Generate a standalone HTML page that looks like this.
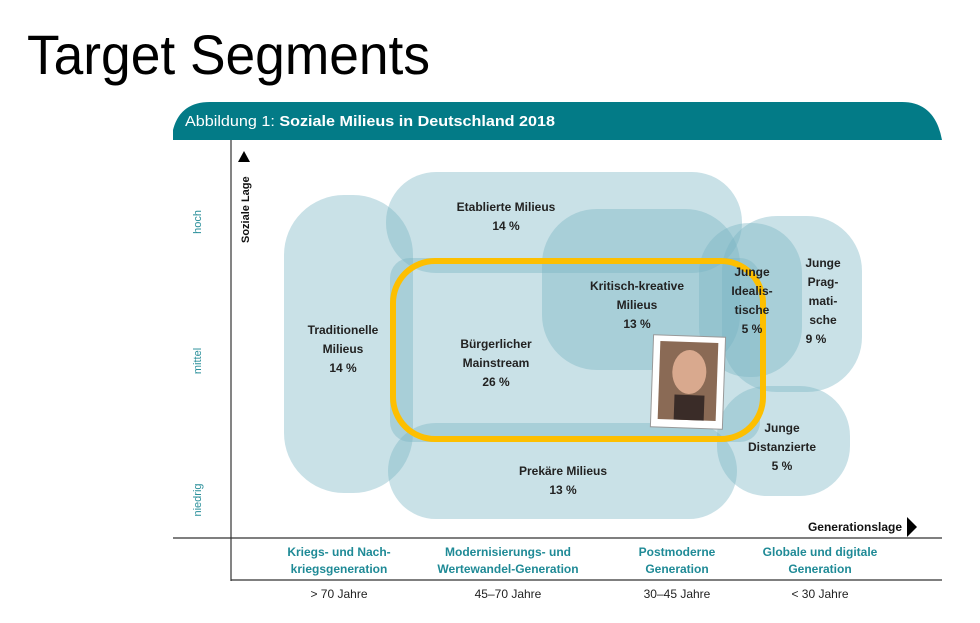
<!DOCTYPE html>
<html><head><meta charset="utf-8"><style>
html,body{margin:0;padding:0;background:#fff;}
svg{display:block;font-family:"Liberation Sans",sans-serif;}
</style></head><body>
<svg width="980" height="623" viewBox="0 0 980 623" xmlns="http://www.w3.org/2000/svg">
<text x="27" y="74" font-size="56" fill="#000" textLength="403" lengthAdjust="spacingAndGlyphs">Target Segments</text>
<path d="M173,140 L173,130 Q180,102 210,102 L902,102 Q935,102 942,140 Z" fill="#037b87"/>
<text x="185" y="126" font-size="15" fill="#fff" textLength="370" lengthAdjust="spacingAndGlyphs">Abbildung 1: <tspan font-weight="bold">Soziale Milieus in Deutschland 2018</tspan></text>
<g fill="rgb(120,180,195)" fill-opacity="0.4">
<rect x="284" y="195" width="129" height="298" rx="60"/>
<rect x="386" y="172" width="356" height="101" rx="50"/>
<rect x="542" y="209" width="198" height="161" rx="55"/>
<rect x="390" y="258" width="370" height="184" rx="20"/>
<rect x="388" y="423" width="349" height="96" rx="48"/>
<rect x="699" y="223" width="103" height="154" rx="50"/>
<rect x="722" y="216" width="140" height="176" rx="55"/>
<rect x="717" y="386" width="133" height="110" rx="50"/>
</g>
<rect x="393" y="261" width="370" height="178" rx="42" fill="none" stroke="#fdbf00" stroke-width="6"/>
<g transform="rotate(2 688 381)">
<rect x="652" y="336" width="72" height="92" fill="#fff" stroke="#999" stroke-width="1"/>
<rect x="659" y="342" width="58" height="78" fill="#8a6a55"/>
<ellipse cx="689" cy="372" rx="17" ry="22" fill="#d9a98e"/>
<rect x="675" y="395" width="30" height="25" fill="#3a2c28"/>
</g>
<g font-size="12" fill="#222" text-anchor="middle" font-weight="bold">
<text x="343" y="334">Traditionelle</text><text x="343" y="353">Milieus</text><text x="343" y="372">14 %</text>
<text x="506" y="211">Etablierte Milieus</text><text x="506" y="230">14 %</text>
<text x="637" y="290">Kritisch-kreative</text><text x="637" y="309">Milieus</text><text x="637" y="328">13 %</text>
<text x="496" y="348">Bürgerlicher</text><text x="496" y="367">Mainstream</text><text x="496" y="386">26 %</text>
<text x="752" y="276">Junge</text><text x="752" y="295">Idealis-</text><text x="752" y="314">tische</text><text x="752" y="333">5 %</text>
<text x="823" y="267">Junge</text><text x="823" y="286">Prag-</text><text x="823" y="305">mati-</text><text x="823" y="324">sche</text><text x="816" y="343">9 %</text>
<text x="782" y="432">Junge</text><text x="782" y="451">Distanzierte</text><text x="782" y="470">5 %</text>
<text x="563" y="475">Prekäre Milieus</text><text x="563" y="494">13 %</text>
</g>
<line x1="231" y1="140" x2="231" y2="581" stroke="#333" stroke-width="1.2"/>
<line x1="173" y1="538" x2="942" y2="538" stroke="#333" stroke-width="1.2"/>
<line x1="231" y1="580" x2="942" y2="580" stroke="#333" stroke-width="1.2"/>
<polygon points="238,162 250,162 244,151" fill="#000"/>
<text transform="translate(249,243) rotate(-90)" font-size="11" font-weight="bold" fill="#111">Soziale Lage</text>
<g font-size="11" fill="#2a8f9a" text-anchor="middle">
<text transform="translate(201,222) rotate(-90)">hoch</text>
<text transform="translate(201,361) rotate(-90)">mittel</text>
<text transform="translate(201,500) rotate(-90)">niedrig</text>
</g>
<text x="902" y="531" font-size="12" font-weight="bold" fill="#111" text-anchor="end">Generationslage</text>
<polygon points="907,517 907,537 917,527" fill="#000"/>
<g font-size="12" fill="#1f8a96" font-weight="bold" text-anchor="middle">
<text x="339" y="556">Kriegs- und Nach-</text><text x="339" y="573">kriegsgeneration</text>
<text x="508" y="556">Modernisierungs- und</text><text x="508" y="573">Wertewandel-Generation</text>
<text x="677" y="556">Postmoderne</text><text x="677" y="573">Generation</text>
<text x="820" y="556">Globale und digitale</text><text x="820" y="573">Generation</text>
</g>
<g font-size="12" fill="#222" text-anchor="middle">
<text x="339" y="598">&gt; 70 Jahre</text><text x="508" y="598">45–70 Jahre</text>
<text x="677" y="598">30–45 Jahre</text><text x="820" y="598">&lt; 30 Jahre</text>
</g>
</svg>
</body></html>
